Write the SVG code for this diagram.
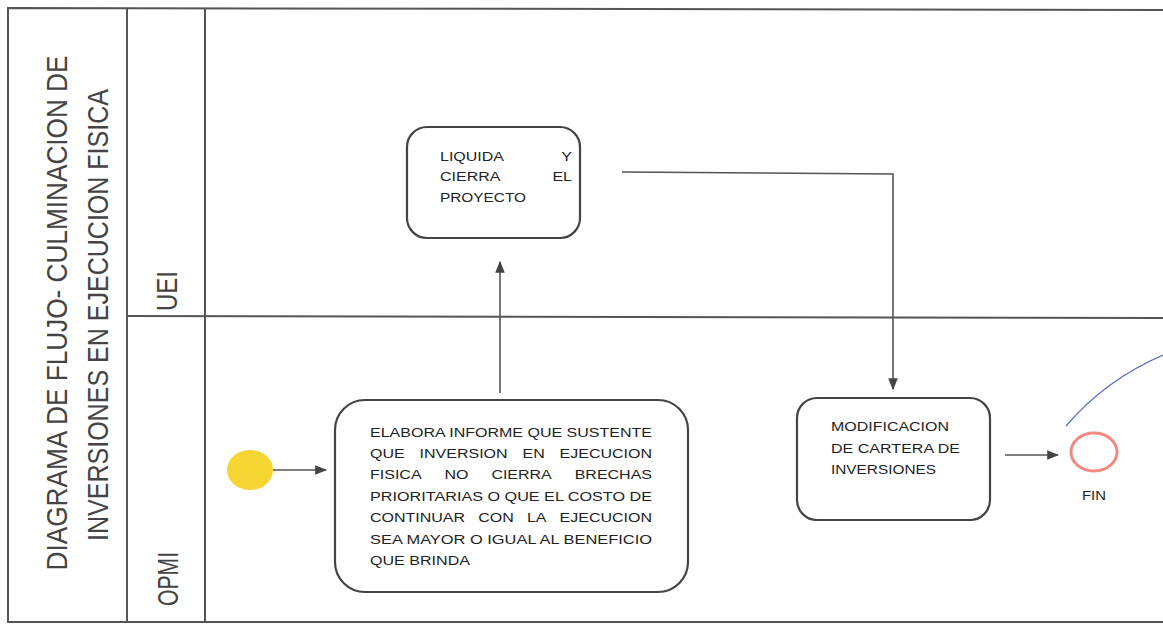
<svg xmlns="http://www.w3.org/2000/svg" width="1163" height="627" viewBox="0 0 1163 627">
<style>
.frame{fill:none;stroke:#555;stroke-width:2}
.box{fill:#fff;stroke:#444;stroke-width:2.2}
.conn{fill:none;stroke:#555;stroke-width:1.6}
.t{font-family:"Liberation Sans",Arial,sans-serif;fill:#222;font-size:12.5px}
.e{text-anchor:end}
.title{font-family:"Liberation Sans Narrow","Liberation Sans",Arial,sans-serif;fill:#444;font-size:30px}
</style>
<defs>
<marker id="ah2" viewBox="0 0 10 10" refX="9" refY="5" markerWidth="12" markerHeight="12" markerUnits="userSpaceOnUse" orient="auto">
<path d="M0,1 L10,5 L0,9 z" fill="#444"/>
</marker>
</defs>
<rect width="1163" height="627" fill="#fff"/>
<g id="pool">
<path class="frame" d="M1163,10 L8,8 L8,622 L1163,622"/>
<line class="frame" x1="127" y1="8" x2="127" y2="622"/>
<line class="frame" x1="205" y1="9" x2="205" y2="622"/>
<line class="frame" x1="127" y1="316" x2="1163" y2="318"/>
<text class="title" transform="translate(67,313) rotate(-90)" text-anchor="middle" textLength="515" lengthAdjust="spacingAndGlyphs">DIAGRAMA DE FLUJO- CULMINACION DE</text>
<text class="title" transform="translate(108,315) rotate(-90)" text-anchor="middle" textLength="452" lengthAdjust="spacingAndGlyphs">INVERSIONES EN EJECUCION FISICA</text>
<text class="title" transform="translate(177,291) rotate(-90)" text-anchor="middle" textLength="40" lengthAdjust="spacingAndGlyphs">UEI</text>
<text class="title" transform="translate(178,579) rotate(-90)" text-anchor="middle" textLength="54" lengthAdjust="spacingAndGlyphs">OPMI</text>
</g>
<g id="connectors">
<line class="conn" x1="273" y1="470" x2="326" y2="470" marker-end="url(#ah2)"/>
<line class="conn" x1="500" y1="393" x2="500" y2="262" marker-end="url(#ah2)"/>
<polyline class="conn" points="622,172 893,174 893,389" marker-end="url(#ah2)"/>
<line class="conn" x1="1005" y1="455" x2="1058" y2="455" marker-end="url(#ah2)"/>
<path d="M1066,426 Q1105,380 1163,355" fill="none" stroke="#5b6bc0" stroke-width="1.2"/>
</g>
<g id="start">
<ellipse cx="250" cy="470" rx="23" ry="20" fill="#f7d533"/>
</g>
<g id="liquida">
<rect class="box" x="407" y="127" width="173" height="111" rx="20"/>
<text class="t" x="440" y="161" textLength="64" lengthAdjust="spacingAndGlyphs">LIQUIDA</text>
<text class="t e" x="572" y="161" textLength="10.7" lengthAdjust="spacingAndGlyphs">Y</text>
<text class="t" x="440" y="181" textLength="60.4" lengthAdjust="spacingAndGlyphs">CIERRA</text>
<text class="t e" x="572" y="181" textLength="19.6" lengthAdjust="spacingAndGlyphs">EL</text>
<text class="t" x="440" y="202" textLength="86" lengthAdjust="spacingAndGlyphs">PROYECTO</text>
</g>
<g id="elabora">
<rect class="box" x="335" y="400" width="353" height="192" rx="30"/>
<text class="t" x="370" y="437" textLength="282" lengthAdjust="spacingAndGlyphs">ELABORA INFORME QUE SUSTENTE</text>
<text class="t" x="370" y="458" textLength="34.7" lengthAdjust="spacingAndGlyphs">QUE</text>
<text class="t" x="419.6" y="458" textLength="88" lengthAdjust="spacingAndGlyphs">INVERSION</text>
<text class="t" x="522.5" y="458" textLength="22.2" lengthAdjust="spacingAndGlyphs">EN</text>
<text class="t" x="559.6" y="458" textLength="92.4" lengthAdjust="spacingAndGlyphs">EJECUCION</text>
<text class="t" x="370" y="479" textLength="51.6" lengthAdjust="spacingAndGlyphs">FISICA</text>
<text class="t" x="444.5" y="479" textLength="24" lengthAdjust="spacingAndGlyphs">NO</text>
<text class="t" x="491.4" y="479" textLength="60.4" lengthAdjust="spacingAndGlyphs">CIERRA</text>
<text class="t" x="574.7" y="479" textLength="77.3" lengthAdjust="spacingAndGlyphs">BRECHAS</text>
<text class="t" x="370" y="501" textLength="282" lengthAdjust="spacingAndGlyphs">PRIORITARIAS O QUE EL COSTO DE</text>
<text class="t" x="370" y="522" textLength="95.1" lengthAdjust="spacingAndGlyphs">CONTINUAR</text>
<text class="t" x="478.2" y="522" textLength="35.6" lengthAdjust="spacingAndGlyphs">CON</text>
<text class="t" x="526.9" y="522" textLength="19.6" lengthAdjust="spacingAndGlyphs">LA</text>
<text class="t" x="559.6" y="522" textLength="92.4" lengthAdjust="spacingAndGlyphs">EJECUCION</text>
<text class="t" x="370" y="544" textLength="282" lengthAdjust="spacingAndGlyphs">SEA MAYOR O IGUAL AL BENEFICIO</text>
<text class="t" x="370" y="565" textLength="100" lengthAdjust="spacingAndGlyphs">QUE BRINDA</text>
</g>
<g id="modificacion">
<rect class="box" x="797" y="398" width="193" height="122" rx="20"/>
<text class="t" x="831" y="431" textLength="118" lengthAdjust="spacingAndGlyphs">MODIFICACION</text>
<text class="t" x="831" y="453" textLength="129" lengthAdjust="spacingAndGlyphs">DE CARTERA DE</text>
<text class="t" x="831" y="474" textLength="105" lengthAdjust="spacingAndGlyphs">INVERSIONES</text>
</g>
<g id="fin">
<ellipse cx="1094" cy="452" rx="23" ry="19" fill="#fff" stroke="#f28a80" stroke-width="3"/>
<text class="t" x="1094" y="500" text-anchor="middle" font-size="11.5" textLength="24" lengthAdjust="spacingAndGlyphs">FIN</text>
</g>
</svg>
